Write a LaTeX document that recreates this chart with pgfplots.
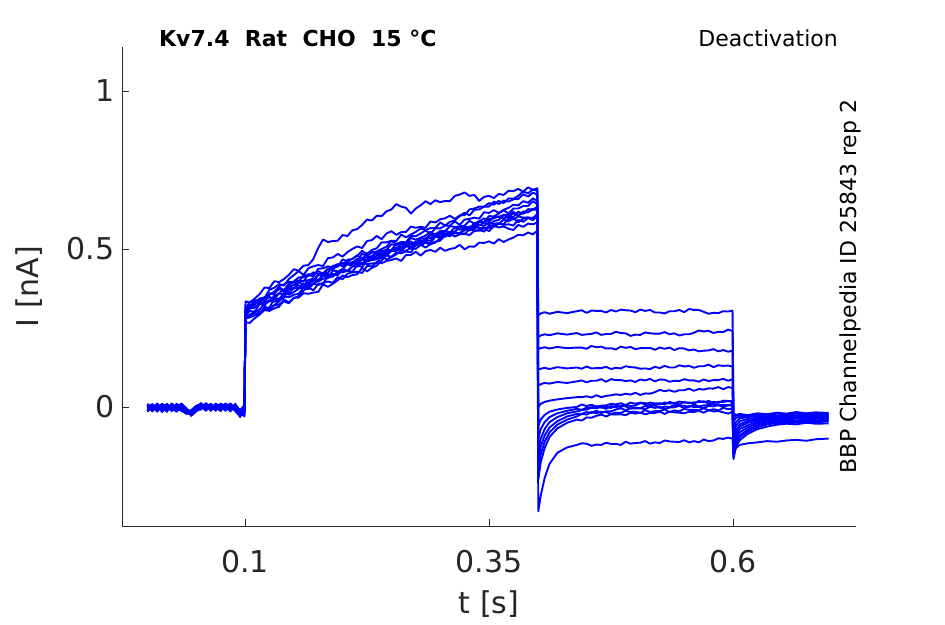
\documentclass[border=0pt]{standalone}
\usepackage{pgfplots}
\pgfplotsset{compat=1.18}
\usepackage{pgfplotstable}
\usepackage{fontspec}
\setmainfont{DejaVu Sans}
\definecolor{axgray}{RGB}{38,38,38}
\definecolor{trace}{RGB}{0,0,255}
\pgfplotstableread{
t c1 c2 c3 c4 c5 c6 c7 c8 c9 c10 c11 c12 c13
0.000 0.005 -0.008 0.002 -0.012 0.008 -0.003 0.010 -0.015 0.000 -0.006 0.006 -0.010 0.003
0.005 -0.010 0.004 -0.006 0.007 -0.014 0.009 -0.004 0.002 -0.011 0.008 -0.002 0.005 -0.013
0.010 0.006 -0.012 0.009 -0.003 0.004 -0.015 0.007 -0.008 0.011 -0.004 -0.013 0.003 0.008
0.015 -0.007 0.008 -0.013 0.005 -0.009 0.004 -0.016 0.010 -0.005 0.002 0.009 -0.011 -0.003
0.020 0.003 -0.005 0.006 -0.014 0.010 -0.008 0.002 -0.003 0.007 -0.015 0.001 0.008 -0.009
0.025 -0.012 0.007 -0.002 0.008 -0.006 0.011 -0.010 0.005 -0.013 0.006 -0.008 -0.004 0.010
0.030 0.008 -0.014 0.004 -0.006 0.002 -0.005 0.009 -0.012 0.003 -0.002 0.010 -0.015 -0.001
0.035 -0.004 0.002 -0.011 0.010 -0.013 0.006 -0.003 0.008 -0.009 0.011 -0.006 0.004 -0.012
0.040 -0.015 -0.010 -0.018 -0.004 -0.020 -0.008 -0.014 -0.006 -0.022 -0.012 -0.017 -0.009 -0.013
0.045 -0.020 -0.026 -0.012 -0.022 -0.016 -0.028 -0.010 -0.024 -0.018 -0.014 -0.025 -0.019 -0.021
0.050 -0.006 -0.012 0.002 -0.010 -0.004 -0.014 0.004 -0.008 -0.011 0.001 -0.007 -0.013 -0.002
0.055 0.007 -0.004 0.010 -0.008 0.012 -0.002 0.005 0.009 -0.006 0.011 0.003 -0.001 0.008
0.060 -0.003 0.009 -0.007 0.012 -0.005 0.008 -0.012 0.004 0.010 -0.008 0.006 -0.010 0.002
0.065 0.010 -0.006 0.005 -0.002 0.009 -0.011 0.007 -0.009 0.002 0.006 -0.012 0.008 -0.005
0.070 -0.008 0.003 -0.012 0.007 -0.003 0.005 -0.006 0.011 -0.010 0.000 0.009 -0.004 0.006
0.075 0.004 -0.011 0.008 -0.009 0.006 -0.004 0.010 -0.005 0.007 -0.013 0.002 0.010 -0.008
0.080 -0.011 0.006 -0.004 0.003 -0.012 0.010 -0.008 0.001 -0.003 0.009 -0.010 0.005 0.011
0.085 0.002 -0.009 0.011 -0.013 0.005 -0.007 0.003 -0.012 0.009 -0.005 0.007 -0.014 0.000
0.090 -0.009 0.010 -0.005 0.006 -0.010 0.002 -0.013 0.007 -0.007 0.004 -0.011 0.006 -0.006
0.095 -0.020 -0.015 -0.028 -0.010 -0.024 -0.018 -0.030 -0.012 -0.022 -0.026 -0.016 -0.032 -0.019
0.0995 0.004 -0.018 -0.008 0.006 -0.026 0.002 -0.012 -0.030 0.008 -0.004 -0.020 0.000 -0.010
0.1005 0.312 0.334 0.296 0.292 0.305 0.281 0.287 0.268 0.303 0.284 0.289 0.314 0.279
0.105 0.332 0.331 0.313 0.285 0.323 0.283 0.312 0.266 0.317 0.289 0.304 0.315 0.293
0.110 0.331 0.343 0.322 0.301 0.326 0.290 0.314 0.281 0.327 0.305 0.300 0.338 0.297
0.115 0.342 0.357 0.343 0.308 0.332 0.293 0.327 0.292 0.343 0.299 0.326 0.336 0.294
0.120 0.336 0.378 0.339 0.328 0.331 0.318 0.321 0.307 0.347 0.310 0.329 0.344 0.311
0.125 0.355 0.376 0.348 0.334 0.357 0.311 0.338 0.304 0.360 0.315 0.336 0.371 0.309
0.130 0.365 0.398 0.342 0.345 0.361 0.322 0.350 0.312 0.355 0.341 0.333 0.377 0.322
0.135 0.379 0.395 0.360 0.342 0.373 0.334 0.359 0.317 0.383 0.339 0.337 0.389 0.324
0.140 0.369 0.405 0.371 0.360 0.366 0.350 0.356 0.340 0.388 0.346 0.361 0.384 0.334
0.145 0.390 0.418 0.384 0.360 0.384 0.347 0.380 0.331 0.396 0.372 0.355 0.405 0.328
0.150 0.396 0.436 0.374 0.377 0.397 0.355 0.386 0.344 0.394 0.377 0.364 0.417 0.346
0.155 0.400 0.431 0.396 0.376 0.410 0.358 0.396 0.351 0.396 0.385 0.374 0.430 0.346
0.160 0.397 0.447 0.399 0.378 0.410 0.378 0.384 0.368 0.418 0.376 0.391 0.418 0.360
0.165 0.420 0.449 0.401 0.386 0.420 0.373 0.401 0.379 0.414 0.392 0.380 0.439 0.358
0.170 0.420 0.468 0.398 0.405 0.412 0.390 0.407 0.369 0.426 0.400 0.392 0.445 0.362
0.175 0.430 0.503 0.417 0.397 0.437 0.386 0.402 0.389 0.421 0.419 0.398 0.449 0.364
0.180 0.421 0.530 0.423 0.406 0.439 0.391 0.416 0.392 0.424 0.413 0.418 0.446 0.388
0.185 0.435 0.522 0.438 0.408 0.445 0.413 0.408 0.397 0.424 0.420 0.417 0.471 0.380
0.190 0.445 0.525 0.434 0.432 0.441 0.414 0.415 0.393 0.447 0.412 0.421 0.473 0.390
0.195 0.452 0.526 0.451 0.429 0.444 0.428 0.422 0.411 0.445 0.427 0.417 0.484 0.401
0.200 0.446 0.544 0.446 0.435 0.467 0.426 0.437 0.404 0.456 0.436 0.434 0.476 0.416
0.205 0.466 0.541 0.451 0.456 0.460 0.431 0.430 0.422 0.454 0.454 0.430 0.490 0.411
0.210 0.468 0.559 0.446 0.456 0.469 0.428 0.446 0.426 0.458 0.450 0.444 0.500 0.417
0.215 0.480 0.563 0.449 0.469 0.478 0.448 0.444 0.428 0.461 0.460 0.453 0.508 0.420
0.220 0.469 0.576 0.471 0.466 0.494 0.443 0.456 0.424 0.485 0.452 0.466 0.503 0.440
0.225 0.486 0.593 0.463 0.475 0.484 0.463 0.452 0.446 0.478 0.467 0.460 0.525 0.429
0.230 0.492 0.590 0.470 0.476 0.497 0.468 0.454 0.445 0.488 0.478 0.465 0.528 0.440
0.235 0.483 0.605 0.478 0.487 0.502 0.473 0.455 0.459 0.492 0.486 0.467 0.541 0.447
0.240 0.494 0.604 0.494 0.474 0.521 0.471 0.477 0.455 0.500 0.481 0.486 0.531 0.464
0.245 0.497 0.619 0.483 0.492 0.521 0.495 0.467 0.462 0.507 0.498 0.479 0.549 0.480
0.250 0.515 0.625 0.496 0.495 0.526 0.496 0.474 0.465 0.526 0.496 0.494 0.556 0.475
0.255 0.512 0.642 0.499 0.504 0.525 0.505 0.483 0.470 0.515 0.517 0.494 0.545 0.489
0.260 0.516 0.634 0.515 0.506 0.545 0.495 0.495 0.462 0.522 0.516 0.503 0.553 0.486
0.265 0.514 0.630 0.517 0.517 0.537 0.507 0.494 0.481 0.521 0.521 0.512 0.554 0.492
0.270 0.535 0.612 0.524 0.505 0.546 0.515 0.504 0.481 0.541 0.515 0.500 0.571 0.489
0.275 0.529 0.628 0.514 0.524 0.554 0.522 0.500 0.491 0.540 0.515 0.518 0.567 0.512
0.280 0.536 0.638 0.526 0.525 0.565 0.516 0.514 0.479 0.549 0.534 0.519 0.570 0.511
0.285 0.542 0.651 0.527 0.528 0.560 0.534 0.504 0.493 0.559 0.532 0.523 0.567 0.520
0.290 0.554 0.642 0.545 0.526 0.566 0.534 0.516 0.497 0.548 0.545 0.518 0.587 0.514
0.295 0.545 0.654 0.547 0.542 0.566 0.546 0.520 0.491 0.565 0.542 0.539 0.584 0.523
0.300 0.557 0.648 0.553 0.545 0.584 0.536 0.534 0.504 0.565 0.547 0.535 0.594 0.526
0.305 0.556 0.652 0.547 0.558 0.574 0.548 0.550 0.494 0.574 0.538 0.546 0.597 0.544
0.310 0.572 0.651 0.553 0.552 0.586 0.550 0.545 0.500 0.574 0.553 0.543 0.605 0.540
0.315 0.570 0.668 0.553 0.568 0.590 0.539 0.554 0.503 0.587 0.555 0.550 0.595 0.553
0.320 0.571 0.672 0.571 0.561 0.604 0.547 0.546 0.513 0.576 0.571 0.550 0.606 0.547
0.325 0.574 0.679 0.560 0.570 0.615 0.547 0.560 0.499 0.593 0.568 0.565 0.607 0.548
0.330 0.589 0.668 0.570 0.568 0.606 0.563 0.565 0.508 0.595 0.570 0.558 0.625 0.544
0.335 0.580 0.671 0.574 0.563 0.624 0.558 0.582 0.507 0.599 0.567 0.571 0.628 0.557
0.340 0.588 0.652 0.587 0.577 0.625 0.560 0.574 0.520 0.596 0.586 0.566 0.634 0.558
0.345 0.585 0.665 0.597 0.573 0.634 0.555 0.583 0.519 0.616 0.582 0.568 0.634 0.566
0.350 0.604 0.668 0.586 0.584 0.634 0.574 0.577 0.524 0.614 0.595 0.566 0.645 0.556
0.355 0.603 0.661 0.602 0.579 0.650 0.570 0.588 0.517 0.623 0.597 0.579 0.640 0.573
0.360 0.612 0.674 0.601 0.582 0.642 0.580 0.592 0.531 0.614 0.603 0.580 0.652 0.568
0.365 0.622 0.671 0.608 0.578 0.653 0.576 0.607 0.522 0.624 0.597 0.593 0.645 0.571
0.370 0.612 0.684 0.607 0.597 0.650 0.578 0.600 0.530 0.630 0.602 0.587 0.660 0.564
0.375 0.628 0.683 0.618 0.593 0.657 0.574 0.613 0.536 0.640 0.601 0.597 0.659 0.560
0.380 0.628 0.690 0.604 0.603 0.658 0.592 0.608 0.545 0.638 0.618 0.584 0.668 0.576
0.385 0.636 0.681 0.618 0.599 0.673 0.586 0.614 0.543 0.651 0.611 0.596 0.682 0.570
0.390 0.636 0.695 0.618 0.600 0.666 0.598 0.616 0.552 0.646 0.626 0.598 0.676 0.580
0.395 0.651 0.687 0.624 0.595 0.678 0.599 0.627 0.546 0.660 0.625 0.591 0.688 0.578
0.3995 0.642 0.692 0.624 0.612 0.672 0.604 0.625 0.558 0.652 0.633 0.604 0.684 0.584
0.4005 0.290 0.222 0.183 0.118 0.068 0.000 -0.060 -0.100 -0.140 -0.170 -0.200 -0.230 -0.330
0.403 0.296 0.226 0.186 0.121 0.072 0.010 -0.040 -0.070 -0.100 -0.125 -0.150 -0.175 -0.280
0.407 0.300 0.230 0.189 0.124 0.076 0.016 -0.025 -0.048 -0.070 -0.090 -0.110 -0.130 -0.225
0.412 0.295 0.227 0.185 0.120 0.074 0.020 -0.015 -0.032 -0.048 -0.065 -0.080 -0.095 -0.180
0.420 0.301 0.233 0.190 0.126 0.079 0.024 -0.008 -0.020 -0.032 -0.045 -0.056 -0.068 -0.145
0.430 0.297 0.229 0.186 0.122 0.076 0.028 -0.003 -0.012 -0.020 -0.030 -0.040 -0.050 -0.128
0.440 0.303 0.234 0.188 0.125 0.081 0.031 0.000 -0.006 -0.014 -0.022 -0.030 -0.040 -0.120
0.445 0.306 0.228 0.188 0.121 0.084 0.031 0.008 -0.009 -0.010 -0.022 -0.022 -0.043 -0.115
0.450 0.298 0.230 0.184 0.128 0.078 0.034 0.003 -0.002 -0.008 -0.016 -0.024 -0.033 -0.116
0.455 0.305 0.231 0.193 0.122 0.083 0.030 0.007 -0.001 -0.003 -0.019 -0.016 -0.034 -0.123
0.460 0.304 0.236 0.189 0.123 0.083 0.037 0.001 0.002 -0.004 -0.012 -0.020 -0.028 -0.119
0.465 0.304 0.228 0.191 0.123 0.088 0.031 0.004 -0.002 0.000 -0.019 -0.015 -0.024 -0.120
0.470 0.299 0.231 0.185 0.127 0.080 0.035 0.005 0.000 -0.006 -0.014 -0.016 -0.030 -0.113
0.475 0.307 0.231 0.186 0.120 0.088 0.037 0.010 -0.003 0.003 -0.014 -0.022 -0.023 -0.117
0.480 0.302 0.238 0.182 0.124 0.085 0.040 0.008 0.004 -0.001 -0.008 -0.018 -0.024 -0.117
0.485 0.308 0.234 0.191 0.122 0.085 0.038 0.012 0.000 0.004 -0.004 -0.019 -0.023 -0.120
0.490 0.306 0.233 0.187 0.129 0.082 0.042 0.006 0.007 0.002 -0.010 -0.012 -0.026 -0.110
0.495 0.305 0.225 0.190 0.126 0.084 0.039 0.014 0.003 -0.005 -0.004 -0.016 -0.018 -0.116
0.500 0.300 0.229 0.183 0.125 0.079 0.045 0.010 0.005 -0.002 -0.005 -0.015 -0.021 -0.114
0.505 0.308 0.228 0.186 0.121 0.087 0.038 0.014 0.012 -0.004 -0.004 -0.019 -0.018 -0.113
0.510 0.304 0.236 0.186 0.122 0.084 0.043 0.012 0.009 0.003 -0.007 -0.010 -0.023 -0.108
0.515 0.307 0.233 0.187 0.120 0.089 0.042 0.006 0.014 0.002 0.001 -0.016 -0.019 -0.116
0.520 0.299 0.232 0.181 0.127 0.081 0.047 0.009 0.011 0.005 -0.003 -0.013 -0.019 -0.112
0.525 0.299 0.232 0.188 0.123 0.087 0.054 0.008 0.012 -0.003 0.000 -0.013 -0.015 -0.114
0.530 0.296 0.237 0.184 0.130 0.086 0.050 0.014 0.008 0.001 -0.006 -0.008 -0.022 -0.106
0.535 0.303 0.230 0.188 0.125 0.080 0.053 0.011 0.016 0.000 -0.002 -0.016 -0.015 -0.109
0.540 0.303 0.233 0.180 0.125 0.083 0.048 0.012 0.012 0.006 -0.001 -0.011 -0.017 -0.110
0.545 0.307 0.226 0.186 0.132 0.082 0.053 0.008 0.017 0.003 0.004 -0.014 -0.018 -0.111
0.550 0.300 0.230 0.185 0.128 0.088 0.053 0.016 0.014 0.004 -0.004 -0.006 -0.020 -0.105
0.555 0.310 0.230 0.179 0.130 0.084 0.058 0.012 0.014 0.000 0.003 -0.009 -0.015 -0.112
0.560 0.307 0.235 0.182 0.124 0.084 0.051 0.015 0.010 0.008 0.000 -0.009 -0.016 -0.108
0.565 0.307 0.242 0.176 0.129 0.080 0.057 0.015 0.019 0.002 0.000 -0.010 -0.012 -0.112
0.570 0.301 0.239 0.178 0.129 0.087 0.055 0.018 0.015 0.005 -0.003 -0.004 -0.018 -0.103
0.575 0.295 0.241 0.179 0.134 0.082 0.059 0.011 0.019 0.006 0.003 -0.011 -0.010 -0.108
0.580 0.298 0.234 0.183 0.126 0.085 0.058 0.016 0.013 0.009 0.002 -0.007 -0.014 -0.106
0.585 0.297 0.238 0.176 0.132 0.085 0.063 0.013 0.016 0.005 0.006 -0.011 -0.013 -0.099
0.590 0.303 0.237 0.180 0.130 0.089 0.056 0.020 0.016 0.007 -0.001 -0.003 -0.017 -0.101
0.595 0.302 0.245 0.175 0.131 0.083 0.063 0.019 0.019 0.004 0.007 -0.007 -0.021 -0.097
0.5995 0.305 0.240 0.178 0.128 0.088 0.060 0.019 0.015 0.010 0.003 -0.005 -0.015 -0.100
0.6005 -0.020 -0.030 -0.045 -0.070 -0.090 -0.110 -0.125 -0.140 -0.150 -0.160 -0.155 -0.165 -0.150
0.603 -0.025 -0.028 -0.035 -0.048 -0.060 -0.075 -0.085 -0.095 -0.105 -0.115 -0.120 -0.125 -0.130
0.607 -0.022 -0.025 -0.030 -0.036 -0.045 -0.055 -0.062 -0.070 -0.080 -0.090 -0.095 -0.105 -0.120
0.615 -0.026 -0.028 -0.027 -0.032 -0.038 -0.044 -0.050 -0.058 -0.065 -0.072 -0.078 -0.085 -0.115
0.625 -0.020 -0.023 -0.031 -0.028 -0.034 -0.038 -0.042 -0.047 -0.052 -0.058 -0.064 -0.070 -0.112
0.635 -0.023 -0.026 -0.025 -0.033 -0.030 -0.035 -0.039 -0.042 -0.046 -0.050 -0.055 -0.062 -0.108
0.645 -0.018 -0.021 -0.029 -0.027 -0.034 -0.032 -0.036 -0.039 -0.043 -0.047 -0.051 -0.056 -0.110
0.655 -0.021 -0.024 -0.024 -0.030 -0.029 -0.036 -0.033 -0.041 -0.040 -0.044 -0.048 -0.053 -0.106
0.665 -0.016 -0.020 -0.027 -0.026 -0.033 -0.031 -0.037 -0.036 -0.044 -0.047 -0.050 -0.055 -0.104
0.675 -0.020 -0.023 -0.022 -0.029 -0.028 -0.034 -0.032 -0.040 -0.039 -0.043 -0.046 -0.050 -0.107
0.685 -0.017 -0.019 -0.026 -0.025 -0.031 -0.030 -0.035 -0.035 -0.042 -0.046 -0.049 -0.053 -0.102
0.698 -0.019 -0.022 -0.024 -0.028 -0.030 -0.033 -0.031 -0.038 -0.040 -0.042 -0.045 -0.052 -0.100
}\traces

\begin{document}
\begin{tikzpicture}[x=1pt,y=1pt]
\useasboundingbox (0,0) rectangle (945,624);
\begin{axis}[
  at={(122pt,98pt)}, anchor=south west,
  scale only axis, width=734pt, height=479pt,
  xmin=-0.026, xmax=0.726, ymin=-0.3766, ymax=1.139,
  axis x line*=bottom, axis y line*=left,
  axis line style={axgray, line width=0.8pt},
  tick align=inside, major tick length=7pt,
  tick style={axgray, line width=0.8pt},
  xtick={0.1,0.35,0.6}, ytick={0,0.5,1},
  xticklabels={0.1,0.35,0.6}, yticklabels={0,0.5,1},
  ticklabel style={font=\fontsize{30}{36}\selectfont, text=axgray},
  xticklabel style={anchor=base, yshift=-46pt},
  yticklabel style={anchor=east, xshift=-4pt},
  xlabel={t [s]}, ylabel={I [nA]},
  label style={font=\fontsize{30}{36}\selectfont, text=axgray},
  xlabel style={at={(axis description cs:0.5,-0.1837)}, anchor=base},
  ylabel style={at={(axis description cs:-0.1138,0.5)}, anchor=base},
  clip mode=individual,
]
\pgfplotsinvokeforeach{1,...,13}{
  \addplot[trace, line width=1.9pt, line join=round] table[x=t, y=c#1] {\traces};
}
\node[anchor=base west, inner sep=0pt, font=\fontsize{22}{26}\selectfont\bfseries]
  at (rel axis cs:0.0504,1) {Kv7.4\ \ Rat\ \ CHO\ \ 15 °C};
\node[anchor=base east, inner sep=0pt, font=\fontsize{22}{26}\selectfont]
  at (rel axis cs:0.9755,1) {Deactivation};
\node[anchor=base, rotate=90, inner sep=0pt, font=\fontsize{22}{26}\selectfont]
  at (rel axis cs:1,0.5) {BBP Channelpedia ID 25843 rep 2};
\end{axis}
\end{tikzpicture}
\end{document}
